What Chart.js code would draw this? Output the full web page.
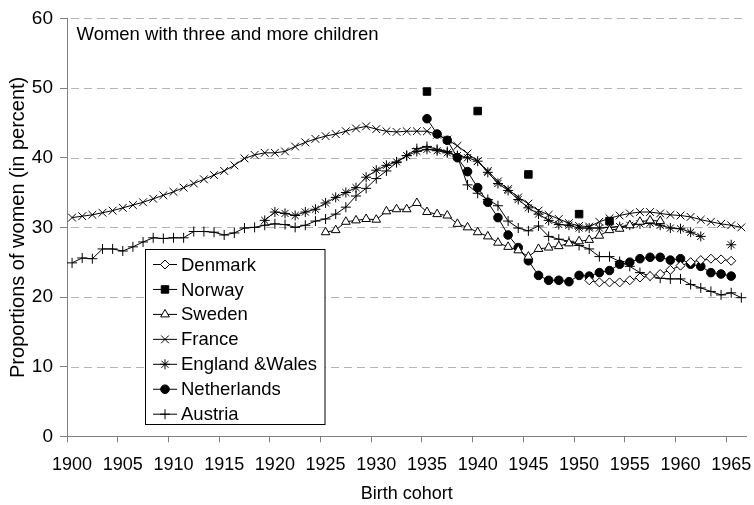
<!DOCTYPE html>
<html>
<head>
<meta charset="utf-8">
<script src="https://cdn.jsdelivr.net/npm/chart.js@4.4.1/dist/chart.umd.min.js"></script>
<style>
  body { margin: 0; background: #fff; }
  #wrap { width: 754px; height: 505px; position: relative; }
</style>
</head>
<body>
<div id="wrap"><canvas id="chart"></canvas></div>
<script>
// birth cohorts on the x axis
const years = [1900, 1901, 1902, 1903, 1904, 1905, 1906, 1907, 1908, 1909,
  1910, 1911, 1912, 1913, 1914, 1915, 1916, 1917, 1918, 1919,
  1920, 1921, 1922, 1923, 1924, 1925, 1926, 1927, 1928, 1929,
  1930, 1931, 1932, 1933, 1934, 1935, 1936, 1937, 1938, 1939,
  1940, 1941, 1942, 1943, 1944, 1945, 1946, 1947, 1948, 1949,
  1950, 1951, 1952, 1953, 1954, 1955, 1956, 1957, 1958, 1959,
  1960, 1961, 1962, 1963, 1964, 1965, 1966];
const yTicks = [0, 10, 20, 30, 40, 50, 60];

// each series: first cohort + values (null = no data)
const denmarkStart = 1951;
const denmark = [22.4, 22.1, 22.1, 22.1, 22.4, 22.8, 23.0, 23.3, 23.9, 24.5, 25.0, 25.3, 25.5, 25.4, 25.2];

// Norway only has a few cohorts
const norwayYears = [1935, 1940, 1945, 1950, 1953];
const norway = [49.5, 46.7, 37.6, 31.9, 30.9];

const swedenStart = 1925;
const sweden = [29.3, 29.6, 30.8, 31.0, 31.2, 31.1, 32.3, 32.6, 32.6, 33.5,
  32.2, 31.9, 31.7, 30.5, 30.0, 29.3, 28.7, 27.8, 27.2, 26.7,
  25.8, 26.9, 27.1, 27.3, 27.7, 28.0, 28.2, 28.8, 29.6, 29.8,
  30.3, 30.8, 31.0, 30.9];

const franceStart = 1900;
const france = [31.4, 31.6, 31.8, 32.1, 32.4, 32.8, 33.2, 33.6, 34.1, 34.6,
  35.1, 35.7, 36.3, 36.9, 37.5, 38.1, 38.9, 39.9, 40.4, 40.7,
  40.7, 40.9, 41.6, 42.2, 42.7, 43.1, 43.4, 43.8, 44.2, 44.5,
  44.1, 43.8, 43.7, 43.8, 43.8, 43.8, 43.3, 42.6, 41.7, 40.6,
  39.5, 38.1, 36.6, 35.5, 34.3, 33.4, 32.4, 31.8, 31.2, 30.6,
  30.2, 30.1, 30.8, 31.3, 31.7, 32.0, 32.2, 32.2, 32.0, 31.8,
  31.7, 31.5, 31.1, 30.8, 30.5, 30.3, 30.0];

const englandStart = 1919;
const england = [31.0, 32.2, 32.0, 31.7, 32.2, 32.6, 33.5, 34.3, 35.0, 35.7,
  37.2, 38.2, 38.9, 39.4, 40.3, 40.9, 41.2, 41.0, 40.7, 40.3,
  40.0, 39.5, 37.9, 36.3, 35.3, 34.0, 32.8, 31.9, 31.0, 30.4,
  30.3, 29.9, 29.9, 29.9, 30.0, 30.1, 30.3, 30.5, 30.6, 30.3,
  29.9, 29.8, 29.3, 28.7, null, null, 27.5];

const netherlandsStart = 1935;
const netherlands = [45.6, 43.4, 42.5, 40.0, 38.0, 35.7, 33.6, 31.4, 28.9, 27.1,
  25.2, 23.1, 22.4, 22.4, 22.2, 23.1, 23.0, 23.5, 23.8, 24.7,
  25.0, 25.5, 25.7, 25.7, 25.3, 25.5, 24.7, 24.4, 23.5, 23.3, 23.0];

const austriaStart = 1900;
const austria = [24.9, 25.6, 25.5, 26.9, 26.9, 26.6, 27.2, 27.9, 28.5, 28.4,
  28.5, 28.5, 29.4, 29.4, 29.3, 28.9, 29.2, 29.9, 30.0, 30.3,
  30.5, 30.4, 30.0, 30.3, 30.9, 31.2, 31.9, 32.9, 34.5, 35.6,
  37.0, 38.1, 39.3, 40.3, 41.3, 41.6, 41.2, 40.9, 40.2, 36.1,
  34.9, 34.0, 33.1, 30.9, 29.9, 29.5, 30.2, 28.7, 28.3, 28.0,
  27.4, 26.9, 25.8, 25.8, 25.1, 24.4, 23.5, 23.0, 22.7, 22.6,
  22.6, 21.8, 21.3, 20.8, 20.3, 20.6, 19.9];

function align(start, vals) {
  const out = years.map(() => null);
  vals.forEach((v, i) => { out[years.indexOf(start + i)] = v; });
  return out;
}

const FONT = "'Liberation Sans', Arial, sans-serif";
Chart.defaults.font.family = FONT;
Chart.defaults.color = '#000';

function series(label, data, style, radius, fill, extra) {
  return Object.assign({
    label: label,
    data: data,
    borderColor: '#000',
    borderWidth: 1,
    pointStyle: style,
    pointRadius: radius,
    pointBackgroundColor: fill,
    pointBorderColor: '#000',
    pointBorderWidth: 1,
    spanGaps: false,
    tension: 0
  }, extra || {});
}

const datasets = [
  series('Denmark', align(denmarkStart, denmark), 'rectRot', 4.5, '#fff'),
  series('Norway', norwayYears.map((y, i) => ({ x: String(y), y: norway[i] })), 'rect', 5.3, '#000', { showLine: false }),
  series('Sweden', align(swedenStart, sweden), 'triangle', 5, '#fff'),
  series('France', align(franceStart, france), 'crossRot', 5.5, '#000'),
  series('England &Wales', align(englandStart, england), 'star', 5, '#000'),
  series('Netherlands', align(netherlandsStart, netherlands), 'circle', 4.3, '#000'),
  series('Austria', align(austriaStart, austria), 'cross', 5, '#000')
];

// dashed horizontal grid behind the data, dashes built as separate segments
const dashedGrid = {
  id: 'dashedGrid',
  beforeDatasetsDraw(chart) {
    const ctx = chart.ctx;
    const area = chart.chartArea;
    const ys = chart.scales.y;
    ctx.save();
    ctx.strokeStyle = '#b4b4b4';
    ctx.lineWidth = 1;
    ctx.beginPath();
    yTicks.forEach(v => {
      if (v === 0) return;
      const py = Math.round(ys.getPixelForValue(v)) + 0.5;
      for (let x = area.left + 4; x < area.right; x += 13) {
        ctx.moveTo(x, py);
        ctx.lineTo(Math.min(x + 8, area.right), py);
      }
    });
    ctx.stroke();
    ctx.restore();
  }
};

// title text and boxed legend inside the plot
const overlay = {
  id: 'overlay',
  afterDraw(chart) {
    const ctx = chart.ctx;
    ctx.save();
    ctx.fillStyle = '#000';
    ctx.font = '18.5px ' + FONT;
    ctx.textBaseline = 'middle';
    ctx.textAlign = 'left';
    ctx.fillText('Women with three and more children', 76.5, 35);

    ctx.fillStyle = '#fff';
    ctx.fillRect(145.5, 249.5, 179.5, 175);
    ctx.strokeStyle = '#000';
    ctx.lineWidth = 1;
    ctx.strokeRect(145.5, 249.5, 179.5, 175);

    chart.data.datasets.forEach((ds, i) => {
      const y = 264.5 + i * 24.95;
      ctx.strokeStyle = '#000';
      ctx.lineWidth = 1;
      ctx.beginPath();
      ctx.moveTo(153, y);
      ctx.lineTo(177, y);
      ctx.stroke();
      ctx.fillStyle = ds.pointBackgroundColor;
      ctx.strokeStyle = '#000';
      Chart.helpers.drawPoint(ctx, {
        pointStyle: ds.pointStyle,
        radius: ds.pointRadius,
        rotation: 0,
        borderWidth: 1
      }, 165, y);
      ctx.fillStyle = '#000';
      ctx.font = '18.5px ' + FONT;
      ctx.fillText(ds.label, 181, y + 1);
    });
    ctx.restore();
  }
};

new Chart(document.getElementById('chart'), {
  type: 'line',
  data: { labels: years.map(String), datasets: datasets },
  plugins: [dashedGrid, overlay],
  options: {
    responsive: true,
    maintainAspectRatio: false,
    animation: false,
    layout: { padding: { left: 0, right: 7.6, top: 14.3, bottom: 0 } },
    plugins: {
      legend: { display: false },
      tooltip: { enabled: false }
    },
    scales: {
      x: {
        type: 'category',
        offset: true,
        afterFit: s => { s.height = 68.7; s.paddingLeft = 0; s.paddingRight = 0; },
        grid: {
          offset: true,
          drawOnChartArea: false,
          drawTicks: true,
          tickLength: 6,
          tickColor: c => (c.index % 5 === 0 ? '#808080' : 'rgba(0,0,0,0)'),
          color: 'rgba(0,0,0,0)'
        },
        border: { display: true, color: '#808080', width: 1 },
        ticks: {
          autoSkip: false,
          maxRotation: 0,
          minRotation: 0,
          padding: 12,
          font: { size: 18 },
          callback: function (v, i) { return years[i] % 5 === 0 ? String(years[i]) : ''; }
        },
        title: {
          display: true,
          text: 'Birth cohort',
          font: { size: 18 },
          padding: { top: 0, bottom: 0 }
        }
      },
      y: {
        min: yTicks[0],
        max: yTicks[yTicks.length - 1],
        afterFit: s => { s.width = 67; },
        afterBuildTicks: s => { s.ticks = yTicks.map(v => ({ value: v })); },
        grid: {
          drawOnChartArea: false,
          tickColor: '#808080',
          tickLength: 7,
          lineWidth: 1
        },
        border: { display: true, color: '#808080', width: 1 },
        ticks: { padding: 7, font: { size: 19 } },
        title: {
          display: true,
          text: 'Proportions of women (in percent)',
          font: { size: 20 },
          padding: { top: 6, bottom: 0 }
        }
      }
    }
  }
});
</script>
</body>
</html>
